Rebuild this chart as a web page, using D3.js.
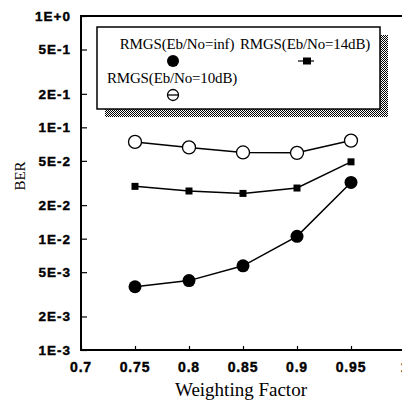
<!DOCTYPE html>
<html>
<head>
<meta charset="utf-8">
<script src="https://cdn.jsdelivr.net/npm/d3@7"></script>
<style>
  html, body { margin: 0; background: #fff; overflow: hidden; }
  svg { display: block; }
  .tick-lab { font-family: "Liberation Sans", Arial, sans-serif; font-weight: bold; }
  .serif { font-family: "Liberation Serif", "Times New Roman", serif; }
</style>
</head>
<body>
<svg width="402" height="400"></svg>
<script>
// weighting factor values
var factors = [0.75, 0.8, 0.85, 0.9, 0.95];
// BER for each curve
var berInf = [3.7e-3, 4.2e-3, 5.7e-3, 1.05e-2, 3.2e-2];
var ber14 = [2.95e-2, 2.68e-2, 2.55e-2, 2.85e-2, 4.9e-2];
var ber10 = [7.4e-2, 6.6e-2, 5.95e-2, 5.9e-2, 7.6e-2];

var xTicks = [0.7, 0.75, 0.8, 0.85, 0.9, 0.95, 1];
var xTickLabels = ["0.7", "0.75", "0.8", "0.85", "0.9", "0.95", "1"];
var yTicks = [1, 0.5, 0.2, 0.1, 0.05, 0.02, 0.01, 0.005, 0.002, 0.001];
var yTickLabels = ["1E+0", "5E-1", "2E-1", "1E-1", "5E-2", "2E-2", "1E-2", "5E-3", "2E-3", "1E-3"];

var legendNames = ["RMGS(Eb/No=inf)", "RMGS(Eb/No=14dB)", "RMGS(Eb/No=10dB)"];

var svg = d3.select("svg");

var x = d3.scaleLinear().domain([0.7, 1]).range([81, 405]);
var y = d3.scaleLog().domain([0.001, 1]).range([350, 16]);

// checker pattern for the legend shadow
var defs = svg.append("defs");
var pat = defs.append("pattern")
    .attr("id", "checker")
    .attr("width", 2).attr("height", 2)
    .attr("patternUnits", "userSpaceOnUse");
pat.append("rect").attr("width", 2).attr("height", 2).attr("fill", "#fff");
pat.append("rect").attr("width", 1).attr("height", 1).attr("fill", "#000");
pat.append("rect").attr("x", 1).attr("y", 1).attr("width", 1).attr("height", 1).attr("fill", "#000");

// frame: top, left, bottom (right side falls outside the picture)
svg.append("path")
    .attr("d", "M" + x(1) + "," + y(1) + "H" + x(0.7) + "V" + y(0.001) + "H" + x(1))
    .attr("fill", "none").attr("stroke", "#000").attr("stroke-width", 2);

// axes with inward ticks
var yAxis = d3.axisRight(y).tickValues(yTicks).tickSize(6).tickFormat("");
svg.append("g")
    .attr("transform", "translate(" + x(0.7) + ",0)")
    .call(yAxis)
    .call(g => g.select(".domain").remove())
    .call(g => g.selectAll(".tick line").attr("stroke-width", 1.2));

var xAxis = d3.axisTop(x).tickValues(xTicks).tickSize(4).tickFormat("");
svg.append("g")
    .attr("transform", "translate(0," + y(0.001) + ")")
    .call(xAxis)
    .call(g => g.select(".domain").remove())
    .call(g => g.selectAll(".tick line").attr("stroke-width", 1.2));

// tick labels
svg.append("g").selectAll("text")
    .data(yTicks)
    .join("text")
    .attr("class", "tick-lab")
    .attr("x", 71)
    .attr("y", d => y(d))
    .attr("dy", "0.36em")
    .attr("text-anchor", "end")
    .attr("font-size", 13.5)
    .attr("letter-spacing", 1)
    .attr("stroke", "#000").attr("stroke-width", 0.4)
    .text((d, i) => yTickLabels[i]);

svg.append("g").selectAll("text")
    .data(xTicks)
    .join("text")
    .attr("class", "tick-lab")
    .attr("x", d => x(d))
    .attr("y", 372)
    .attr("text-anchor", "middle")
    .attr("font-size", 14)
    .attr("letter-spacing", 0.8)
    .attr("stroke", "#000").attr("stroke-width", 0.4)
    .text((d, i) => xTickLabels[i]);

// axis titles
svg.append("text")
    .attr("class", "serif")
    .attr("x", 241)
    .attr("y", 396)
    .attr("text-anchor", "middle")
    .attr("font-size", 19)
    .text("Weighting Factor");

svg.append("text")
    .attr("class", "serif")
    .attr("transform", "translate(25,176) rotate(-90)")
    .attr("text-anchor", "middle")
    .attr("font-size", 15)
    .text("BER");

// data lines
var line = d3.line().x((d, i) => x(factors[i])).y(d => y(d));
[ber10, ber14, berInf].forEach(function(s) {
  svg.append("path")
      .datum(s)
      .attr("d", line)
      .attr("fill", "none")
      .attr("stroke", "#000")
      .attr("stroke-width", 1.5);
});

// markers
svg.append("g").selectAll("circle")
    .data(berInf)
    .join("circle")
    .attr("cx", (d, i) => x(factors[i]))
    .attr("cy", d => y(d))
    .attr("r", 6.5)
    .attr("fill", "#000");

svg.append("g").selectAll("rect")
    .data(ber14)
    .join("rect")
    .attr("x", (d, i) => x(factors[i]) - 3.5)
    .attr("y", d => y(d) - 3.5)
    .attr("width", 7).attr("height", 7)
    .attr("fill", "#000");

svg.append("g").selectAll("circle")
    .data(ber10)
    .join("circle")
    .attr("cx", (d, i) => x(factors[i]))
    .attr("cy", d => y(d))
    .attr("r", 6.5)
    .attr("fill", "#fff")
    .attr("stroke", "#000")
    .attr("stroke-width", 1.3);

// legend
var lg = svg.append("g");
lg.append("rect")
    .attr("x", 105).attr("y", 35)
    .attr("width", 283).attr("height", 82)
    .attr("fill", "url(#checker)");
lg.append("rect")
    .attr("x", 97).attr("y", 27)
    .attr("width", 283).attr("height", 82)
    .attr("fill", "#fff").attr("stroke", "#000").attr("stroke-width", 1.5);

var legItems = [
  {name: legendNames[0], tx: 177, ty: 49, my: 61, shape: "filled"},
  {name: legendNames[1], tx: 305, ty: 49, my: 61, shape: "square"},
  {name: legendNames[2], tx: 172, ty: 83, my: 95, shape: "open"}
];
legItems.forEach(function(it) {
  lg.append("text")
      .attr("class", "serif")
      .attr("x", it.tx).attr("y", it.ty)
      .attr("text-anchor", "middle")
      .attr("font-size", 15)
      .attr("letter-spacing", -0.15)
      .text(it.name);
  if (it.shape === "filled") {
    lg.append("circle").attr("cx", it.tx - 4).attr("cy", it.my).attr("r", 6).attr("fill", "#000");
  } else if (it.shape === "square") {
    lg.append("line").attr("x1", it.tx - 7).attr("x2", it.tx + 9)
        .attr("y1", it.my).attr("y2", it.my).attr("stroke", "#000").attr("stroke-width", 1.2);
    lg.append("rect").attr("x", it.tx - 2).attr("y", it.my - 3.5)
        .attr("width", 8).attr("height", 7).attr("fill", "#000");
  } else {
    lg.append("circle").attr("cx", it.tx + 1).attr("cy", it.my).attr("r", 5.5)
        .attr("fill", "#fff").attr("stroke", "#000").attr("stroke-width", 1.3);
    lg.append("line").attr("x1", it.tx - 4.5).attr("x2", it.tx + 6.5)
        .attr("y1", it.my).attr("y2", it.my).attr("stroke", "#000").attr("stroke-width", 1.3);
  }
});
</script>
</body>
</html>
